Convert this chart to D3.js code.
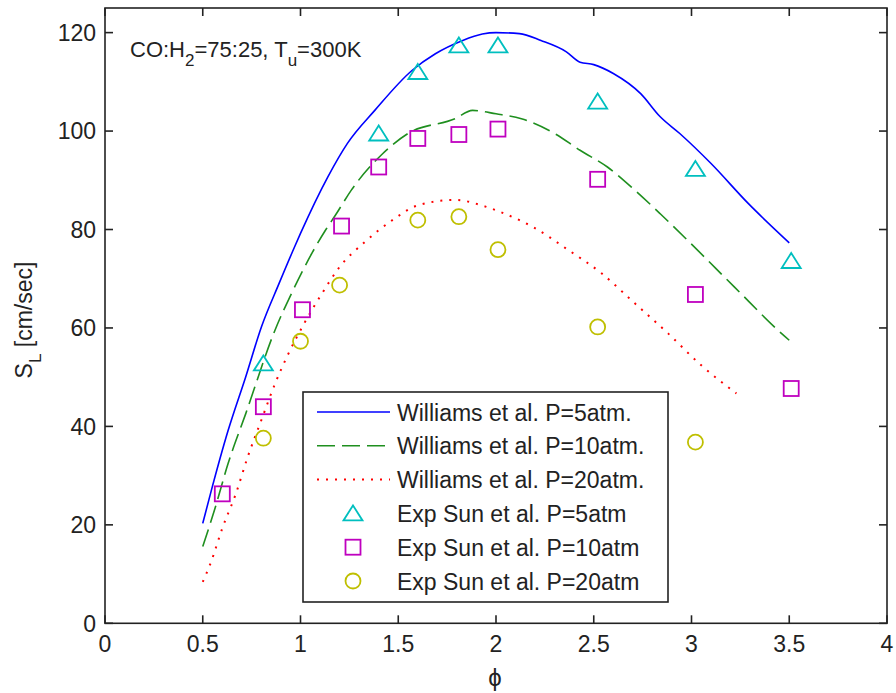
<!DOCTYPE html>
<html>
<head>
<meta charset="utf-8">
<script src="https://cdn.jsdelivr.net/npm/d3@7"></script>
<style>
  html, body { margin: 0; padding: 0; background: #fff; }
  svg { display: block; }
  text { font-family: "Liberation Sans", Arial, Helvetica, sans-serif; fill: #222; }
</style>
</head>
<body>
<svg id="chart" width="896" height="693"></svg>
<script>
// ---------- data ----------
const xTicks = [0, 0.5, 1, 1.5, 2, 2.5, 3, 3.5, 4];
const xTickLabels = ["0", "0.5", "1", "1.5", "2", "2.5", "3", "3.5", "4"];
const yTicks = [0, 20, 40, 60, 80, 100, 120];
const yTickLabels = ["0", "20", "40", "60", "80", "100", "120"];

// Williams et al. model curves
const w5Phi = [0.5, 0.54, 0.63, 0.72, 0.8, 0.89, 0.97, 1.0, 1.14, 1.24, 1.38, 1.57, 1.69, 1.83, 1.93, 2.0, 2.12, 2.23, 2.36, 2.43, 2.5, 2.6, 2.74, 2.84, 2.94, 3.1, 3.29, 3.5];
const w5S   = [20.3, 26.4, 39.2, 50.1, 60.2, 69.0, 76.5, 79.2, 90.7, 97.5, 104.2, 112.3, 115.7, 118.4, 119.7, 120.0, 119.8, 118.4, 116.1, 114.0, 113.5, 111.7, 107.6, 102.9, 99.5, 93.4, 85.3, 77.3];

const w10Phi = [0.5, 0.56, 0.63, 0.72, 0.87, 0.96, 1.06, 1.13, 1.18, 1.26, 1.42, 1.55, 1.79, 1.88, 2.0, 2.13, 2.3, 2.43, 2.57, 2.71, 2.84, 2.98, 3.22, 3.46, 3.5];
const w10S   = [15.6, 23.0, 32.5, 42.6, 59.6, 67.5, 75.3, 80.0, 83.0, 88.0, 95.4, 99.5, 102.5, 104.2, 103.5, 102.5, 99.5, 96.1, 92.7, 88.0, 83.2, 77.8, 68.3, 58.9, 57.5];

const w20Phi = [0.5, 0.54, 0.6, 0.67, 0.73, 0.8, 0.87, 0.93, 1.02, 1.11, 1.2, 1.33, 1.47, 1.6, 1.79, 1.95, 2.02, 2.12, 2.19, 2.36, 2.54, 2.71, 2.88, 3.05, 3.23];
const w20S   = [8.4, 12.2, 19.3, 26.4, 33.8, 41.3, 48.7, 54.1, 61.0, 67.0, 72.4, 77.5, 81.9, 84.9, 86.0, 84.6, 83.6, 81.9, 80.5, 76.1, 71.1, 65.0, 58.9, 52.4, 46.7];

// Experiments, Sun et al.
const e5Phi = [0.81, 1.4, 1.6, 1.81, 2.01, 2.52, 3.02, 3.51];
const e5S   = [52.8, 99.5, 112.0, 117.4, 117.4, 106.0, 92.3, 73.6];

const e10Phi = [0.6, 0.81, 1.01, 1.21, 1.4, 1.6, 1.81, 2.01, 2.52, 3.02, 3.51];
const e10S   = [26.3, 44.0, 63.7, 80.7, 92.7, 98.5, 99.3, 100.4, 90.2, 66.8, 47.7];

const e20Phi = [0.81, 1.0, 1.2, 1.6, 1.81, 2.01, 2.52, 3.02];
const e20S   = [37.6, 57.3, 68.7, 81.9, 82.6, 75.9, 60.2, 36.8];

const legendLabels = [
  "Williams et al. P=5atm.",
  "Williams et al. P=10atm.",
  "Williams et al. P=20atm.",
  "Exp Sun et al. P=5atm",
  "Exp Sun et al. P=10atm",
  "Exp Sun et al. P=20atm"
];

// ---------- drawing ----------
const svg = d3.select("#chart");
const L = 105, R = 887, T = 8, B = 623.3;
const x = d3.scaleLinear().domain([0, 4]).range([L, R]);
const y = d3.scaleLinear().domain([0, 125]).range([B, T]);

const FONT = 23;
const AX = "#222";

const zip = (a, b) => a.map((v, i) => [v, b[i]]);

const lineGen = d3.line().x(d => x(d[0])).y(d => y(d[1])).curve(d3.curveMonotoneX);

const lineStyles = [
  { data: zip(w5Phi, w5S),  color: "#0000ff", width: 1.6, dash: null },
  { data: zip(w10Phi, w10S), color: "#1f8f1f", width: 1.6, dash: "18,7" },
  { data: zip(w20Phi, w20S), color: "#ff0000", width: 2, dash: "2,7" }
];

const plot = svg.append("g");
lineStyles.forEach(s => {
  plot.append("path")
    .attr("d", lineGen(s.data))
    .attr("fill", "none")
    .attr("stroke", s.color)
    .attr("stroke-width", s.width)
    .attr("stroke-dasharray", s.dash);
});

// marker shapes
function marker(g, type, cx, cy, color) {
  if (type === "tri") {
    g.append("path")
      .attr("d", `M${cx},${cy - 8} L${cx + 9.5},${cy + 7} L${cx - 9.5},${cy + 7} Z`)
      .attr("fill", "none").attr("stroke", color).attr("stroke-width", 1.8);
  } else if (type === "sq") {
    g.append("rect")
      .attr("x", cx - 7.5).attr("y", cy - 7.5).attr("width", 15).attr("height", 15)
      .attr("fill", "none").attr("stroke", color).attr("stroke-width", 1.8);
  } else {
    g.append("circle")
      .attr("cx", cx).attr("cy", cy).attr("r", 7.5)
      .attr("fill", "none").attr("stroke", color).attr("stroke-width", 1.8);
  }
}

const markerSets = [
  { phi: e5Phi, s: e5S, type: "tri", color: "#00bfbf" },
  { phi: e10Phi, s: e10S, type: "sq", color: "#bf00bf" },
  { phi: e20Phi, s: e20S, type: "circ", color: "#bfbf00" }
];
markerSets.forEach(m => {
  const g = plot.append("g");
  m.phi.forEach((p, i) => marker(g, m.type, x(p), y(m.s[i]), m.color));
});

// axes box
const axes = svg.append("g");
axes.append("rect")
  .attr("x", L).attr("y", T).attr("width", R - L).attr("height", B - T)
  .attr("fill", "none").attr("stroke", AX).attr("stroke-width", 1.6);

const TL = 8;
xTicks.forEach((t, i) => {
  const px = x(t);
  axes.append("line").attr("x1", px).attr("x2", px).attr("y1", B).attr("y2", B - TL).attr("stroke", AX).attr("stroke-width", 1.6);
  axes.append("line").attr("x1", px).attr("x2", px).attr("y1", T).attr("y2", T + TL).attr("stroke", AX).attr("stroke-width", 1.6);
  axes.append("text").attr("x", px).attr("y", 652).attr("text-anchor", "middle")
    .attr("font-size", FONT).text(xTickLabels[i]);
});
yTicks.forEach((t, i) => {
  const py = y(t);
  axes.append("line").attr("x1", L).attr("x2", L + TL).attr("y1", py).attr("y2", py).attr("stroke", AX).attr("stroke-width", 1.6);
  axes.append("line").attr("x1", R).attr("x2", R - TL).attr("y1", py).attr("y2", py).attr("stroke", AX).attr("stroke-width", 1.6);
  axes.append("text").attr("x", 96).attr("y", py + 8.2).attr("text-anchor", "end")
    .attr("font-size", FONT).text(yTickLabels[i]);
});

// axis labels
svg.append("text").attr("x", 495).attr("y", 686).attr("text-anchor", "middle")
  .attr("font-size", 24).text("ϕ");

const yl = svg.append("text")
  .attr("transform", "translate(32,320) rotate(-90)")
  .attr("text-anchor", "middle").attr("font-size", FONT);
yl.append("tspan").text("S");
yl.append("tspan").attr("font-size", 17).attr("dy", 9).text("L");
yl.append("tspan").attr("dy", -9).text(" [cm/sec]");

// annotation
const ann = svg.append("text").attr("x", 130).attr("y", 57.3).attr("font-size", 22);
ann.append("tspan").text("CO:H");
ann.append("tspan").attr("font-size", 17).attr("dy", 9).text("2");
ann.append("tspan").attr("dy", -9).text("=75:25, T");
ann.append("tspan").attr("font-size", 17).attr("dy", 9).text("u");
ann.append("tspan").attr("dy", -9).text("=300K");

// legend
const lg = svg.append("g");
lg.append("rect").attr("x", 303).attr("y", 392).attr("width", 365).attr("height", 210)
  .attr("fill", "#fff").attr("stroke", AX).attr("stroke-width", 1.6);
const rowY = i => 412 + 33.8 * i;
lineStyles.forEach((s, i) => {
  lg.append("line").attr("x1", 317).attr("x2", 390).attr("y1", rowY(i)).attr("y2", rowY(i))
    .attr("stroke", s.color).attr("stroke-width", s.width).attr("stroke-dasharray", s.dash);
});
markerSets.forEach((m, i) => marker(lg, m.type, 353, rowY(i + 3), m.color));
legendLabels.forEach((t, i) => {
  lg.append("text").attr("x", 397).attr("y", rowY(i) + 8.5).attr("font-size", FONT).text(t);
});
</script>
</body>
</html>
